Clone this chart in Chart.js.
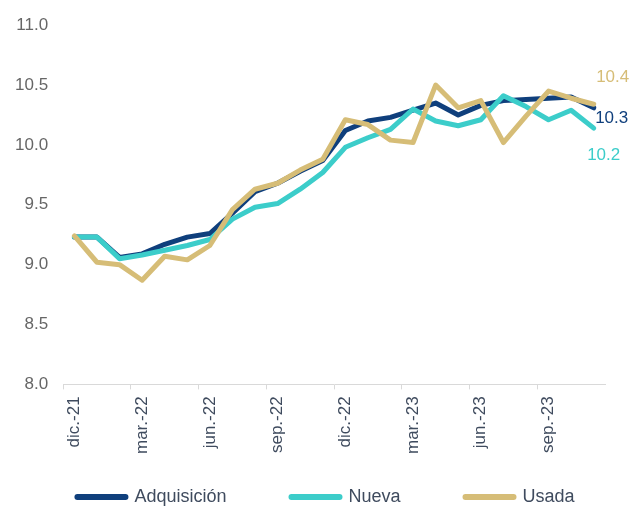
<!DOCTYPE html>
<html>
<head>
<meta charset="utf-8">
<script src="https://cdn.jsdelivr.net/npm/chart.js@4.4.1/dist/chart.umd.min.js"></script>
<style>
  html, body { margin: 0; padding: 0; background: #fff; }
  #wrap { width: 641px; height: 506px; }
</style>
</head>
<body>
<div id="wrap"><canvas id="chart"></canvas></div>
<script>
// Meses (dic-21 a nov-23)
const meses = ['dic.-21', 'ene.-22', 'feb.-22', 'mar.-22', 'abr.-22', 'may.-22', 'jun.-22', 'jul.-22',
  'ago.-22', 'sep.-22', 'oct.-22', 'nov.-22', 'dic.-22', 'ene.-23', 'feb.-23', 'mar.-23', 'abr.-23',
  'may.-23', 'jun.-23', 'jul.-23', 'ago.-23', 'sep.-23', 'oct.-23', 'nov.-23'];

const adquisicion = [9.23, 9.23, 9.06, 9.09, 9.17, 9.23, 9.26, 9.43, 9.61, 9.68, 9.78, 9.87,
  10.12, 10.20, 10.23, 10.29, 10.35, 10.25, 10.33, 10.37, 10.38, 10.39, 10.40, 10.31];
const nueva = [9.23, 9.23, 9.05, 9.08, 9.12, 9.16, 9.21, 9.38, 9.48, 9.51, 9.63, 9.77,
  9.98, 10.06, 10.13, 10.30, 10.20, 10.16, 10.21, 10.41, 10.32, 10.21, 10.29, 10.14];
const usada = [9.24, 9.02, 9.00, 8.87, 9.07, 9.04, 9.16, 9.46, 9.63, 9.68, 9.79, 9.88,
  10.21, 10.17, 10.04, 10.02, 10.50, 10.31, 10.37, 10.02, 10.24, 10.45, 10.39, 10.34];

// Etiquetas del último dato
const etiquetasFinal = ['10.3', '10.2', '10.4'];

const colores = ['#0f3f7c', '#3ccdca', '#d6bd77'];
const desplaz = [[18, 11], [10, 27], [19, -27]];
const fuente = '"Liberation Sans", Arial, sans-serif';

// Etiquetas al final de cada serie
const etiquetasPlugin = {
    id: 'etiquetasFinal',
    afterDatasetsDraw(chart) {
        const ctx = chart.ctx;
        ctx.save();
        ctx.font = '17px ' + fuente;
        ctx.textAlign = 'center';
        ctx.textBaseline = 'middle';
        chart.data.datasets.forEach((ds, i) => {
            const meta = chart.getDatasetMeta(i);
            const pt = meta.data[meta.data.length - 1];
            ctx.fillStyle = colores[i];
            ctx.fillText(etiquetasFinal[i], pt.x + desplaz[i][0], pt.y + desplaz[i][1]);
        });
        ctx.restore();
    }
};

// Leyenda dibujada a mano (espaciado tipo Excel)
const leyendaPlugin = {
    id: 'leyendaAbajo',
    afterDraw(chart) {
        const ctx = chart.ctx;
        const y = 497, largo = 54, gap = 6, sep = 62;
        ctx.save();
        ctx.font = '18px ' + fuente;
        ctx.textBaseline = 'middle';
        const items = chart.data.datasets.map(ds => ({ t: ds.label, c: ds.borderColor, w: ctx.measureText(ds.label).width }));
        let total = items.reduce((s, it) => s + largo + gap + it.w, 0) + sep * (items.length - 1);
        let x = (chart.width - total) / 2 + 4;
        items.forEach(it => {
            ctx.strokeStyle = it.c;
            ctx.lineWidth = 6;
            ctx.lineCap = 'round';
            ctx.beginPath();
            ctx.moveTo(x + 3, y);
            ctx.lineTo(x + largo - 3, y);
            ctx.stroke();
            ctx.fillStyle = '#3f4b5e';
            ctx.fillText(it.t, x + largo + gap, y);
            x += largo + gap + it.w + sep;
        });
        ctx.restore();
    }
};

const serie = (label, data, color, order) => ({
    label: label,
    data: data,
    borderColor: color,
    backgroundColor: color,
    borderWidth: 5,
    borderCapStyle: 'round',
    borderJoinStyle: 'round',
    pointRadius: 0,
    tension: 0,
    order: order
});

new Chart(document.getElementById('chart'), {
    type: 'line',
    data: {
        labels: meses,
        datasets: [
            serie('Adquisición', adquisicion, colores[0], 3),
            serie('Nueva', nueva, colores[1], 2),
            serie('Usada', usada, colores[2], 1)
        ]
    },
    options: {
        responsive: true,
        maintainAspectRatio: false,
        animation: false,
        layout: { padding: { left: 0, right: 36, top: 13, bottom: 45 } },
        scales: {
            x: {
                offset: true,
                grid: {
                    offset: true,
                    drawOnChartArea: false,
                    tickLength: 5,
                    tickColor: (c) => c.index % 3 === 0 ? '#d9d9d9' : 'rgba(0,0,0,0)'
                },
                border: { color: '#d9d9d9', width: 1 },
                ticks: {
                    autoSkip: false,
                    minRotation: 90,
                    maxRotation: 90,
                    padding: 7,
                    color: '#3f4b5e',
                    font: { family: fuente, size: 17 },
                    callback: function(value, index) {
                        return index % 3 === 0 ? this.getLabelForValue(value) : '';
                    }
                }
            },
            y: {
                min: 8,
                max: 11,
                grid: { display: false, drawTicks: false },
                border: { display: false },
                ticks: {
                    stepSize: 0.5,
                    padding: 15,
                    color: '#666666',
                    font: { family: fuente, size: 17 },
                    callback: (v) => v.toFixed(1)
                }
            }
        },
        plugins: {
            legend: { display: false },
            tooltip: { enabled: false }
        }
    },
    plugins: [etiquetasPlugin, leyendaPlugin]
});
</script>
</body>
</html>
